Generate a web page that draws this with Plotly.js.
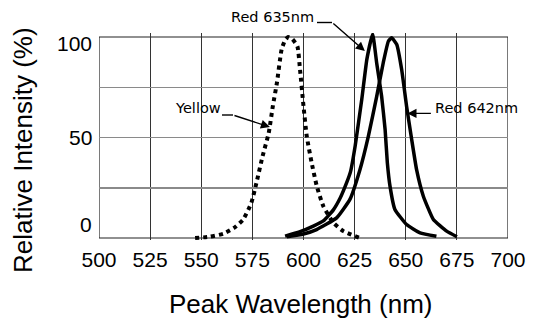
<!DOCTYPE html>
<html>
<head>
<meta charset="utf-8">
<script src="https://cdn.plot.ly/plotly-3.0.1.min.js"></script>
<style>html,body{margin:0;padding:0;background:#fff;}#chart{width:537px;height:322px;}</style>
</head>
<body>
<div id="chart"></div>
<script>
// ---- data ----
var yellowX = [547, 554, 561, 566, 570.5, 574.5, 577, 580, 583, 585, 587, 589.3, 591, 592.5, 594.5, 597, 598.3, 600, 601.6, 604, 606.5, 609.7, 614.6, 619.5, 627.5];
var yellowY = [0, 0.6, 2.2, 5, 9.2, 17.5, 27.5, 40.7, 52.3, 65.6, 77.2, 93.8, 98.5, 100, 99, 95.4, 83.8, 65.6, 50.6, 37.4, 25.8, 15.8, 7.6, 3.4, 0];

var red635X = [591, 598, 604.8, 609.7, 614.6, 618, 621.1, 623, 625.3, 628.5, 631, 633.8, 635.8, 638.2, 639.9, 641, 642.3, 644.7, 650.4, 657, 665];
var red635Y = [0.9, 3, 5.9, 8.5, 14, 20, 27.5, 33, 46, 69, 89, 101.5, 87, 70.5, 54, 37.4, 25.8, 14.2, 6.7, 2.6, 0.9];

var red642X = [591.8, 600, 606.4, 616.2, 622.7, 627.6, 631.7, 635.8, 639, 641.5, 643.1, 645.6, 648, 650.4, 652.9, 655.3, 658.6, 663.5, 670, 675];
var red642Y = [0.6, 2, 4.2, 10, 19.2, 34, 50.6, 70.5, 87.2, 97.9, 99.6, 96.3, 83.8, 65.6, 49, 34, 20.8, 9.2, 3.4, 0.6];

var xTickVals = [500, 525, 550, 575, 600, 625, 650, 675, 700];
var xTickText = ['500', '525', '550', '575', '600', '625', '650', '675', '700'];
var yGridVals = [25, 50, 75];
var yTickLabels = ['0', '50', '100'];
var seriesNames = ['Yellow', 'Red 635nm', 'Red 642nm'];

// ---- layout geometry ----
var W = 537, H = 322;
var M = {l: 99, r: 29, t: 33, b: 82};
var plotW = W - M.l - M.r, plotH = H - M.t - M.b;
function px(p) { return (p - M.l) / plotW; }
function py(p) { return (H - M.b - p) / plotH; }

var tickFont = {family: '"Liberation Sans Narrow", "Arial Narrow", "Liberation Sans", Arial, sans-serif', size: 21, color: '#000'};
var labelFont = {family: '"DejaVu Sans", Verdana, sans-serif', size: 14.5, color: '#000'};
var titleFont = {family: '"Liberation Sans", Arial, sans-serif', size: 26, color: '#000'};

var traces = [
  {x: yellowX, y: yellowY, name: seriesNames[0], mode: 'lines',
   line: {color: '#000', width: 4, dash: 'dot', shape: 'spline', smoothing: 0.5}},
  {x: red635X, y: red635Y, name: seriesNames[1], mode: 'lines',
   line: {color: '#000', width: 3.5, shape: 'spline', smoothing: 0.4}},
  {x: red642X, y: red642Y, name: seriesNames[2], mode: 'lines',
   line: {color: '#000', width: 3.5, shape: 'spline', smoothing: 0.4}}
];

var arrowStyle = {showarrow: true, arrowhead: 2, arrowsize: 1.3, arrowwidth: 1.4, arrowcolor: '#000', standoff: 0, text: ''};

var annotations = [
  // y tick labels
  {xref: 'paper', yref: 'y', x: px(94), y: 6.5, text: yTickLabels[0], showarrow: false, xanchor: 'right', yanchor: 'middle', font: tickFont},
  {xref: 'paper', yref: 'y', x: px(94), y: 50, text: yTickLabels[1], showarrow: false, xanchor: 'right', yanchor: 'middle', font: tickFont},
  {xref: 'paper', yref: 'y', x: px(94), y: 97, text: yTickLabels[2], showarrow: false, xanchor: 'right', yanchor: 'middle', font: tickFont},
  // axis titles
  {xref: 'paper', yref: 'paper', x: px(300), y: py(304), text: 'Peak Wavelength (nm)', showarrow: false, xanchor: 'center', yanchor: 'middle', font: titleFont},
  {xref: 'paper', yref: 'paper', x: px(23), y: py(150), text: 'Relative Intensity (%)', showarrow: false, textangle: -90, xanchor: 'center', yanchor: 'middle', font: titleFont},
  // series labels
  {xref: 'paper', yref: 'paper', x: px(272.5), y: py(17), text: seriesNames[1], showarrow: false, xanchor: 'center', yanchor: 'middle', font: labelFont},
  {xref: 'paper', yref: 'paper', x: px(197.5), y: py(107.5), text: seriesNames[0], showarrow: false, xanchor: 'center', yanchor: 'middle', font: labelFont},
  {xref: 'paper', yref: 'paper', x: px(433), y: py(107.5), text: seriesNames[2], showarrow: false, xanchor: 'left', yanchor: 'middle', font: labelFont},
  // arrows
  Object.assign({xref: 'x', yref: 'y', x: 630, y: 93, ax: -33, ay: -29}, arrowStyle),
  Object.assign({xref: 'x', yref: 'y', x: 583.6, y: 55.2, ax: -37, ay: -12}, arrowStyle),
  Object.assign({xref: 'x', yref: 'y', x: 650.8, y: 62, ax: 25, ay: 0}, arrowStyle)
];

var shapes = [
  // plot frame
  {type: 'rect', xref: 'x', yref: 'y', x0: 500, x1: 700, y0: 0, y1: 100, line: {color: '#222', width: 1.2}, layer: 'below'},
  // leader underlines
  {type: 'line', xref: 'paper', yref: 'paper', x0: px(317), x1: px(332), y0: py(22.5), y1: py(22.5), line: {color: '#000', width: 1.4}},
  {type: 'line', xref: 'paper', yref: 'paper', x0: px(222), x1: px(233), y0: py(115), y1: py(115), line: {color: '#000', width: 1.4}}
];

var layout = {
  width: W, height: H,
  margin: M,
  paper_bgcolor: '#fff', plot_bgcolor: '#fff',
  showlegend: false,
  xaxis: {range: [500, 700], tickvals: xTickVals, ticktext: xTickText, showgrid: true,
          gridcolor: '#333', gridwidth: 1, zeroline: false, showline: false, ticks: '',
          tickfont: tickFont, ticklabelstandoff: 5, fixedrange: true},
  yaxis: {range: [-1, 102], tickvals: yGridVals, showticklabels: false, showgrid: true,
          gridcolor: '#8a8a8a', gridwidth: 1.5, zeroline: false, showline: false, ticks: '', fixedrange: true},
  annotations: annotations,
  shapes: shapes
};

Plotly.newPlot('chart', traces, layout, {staticPlot: true, displayModeBar: false});
</script>
</body>
</html>
